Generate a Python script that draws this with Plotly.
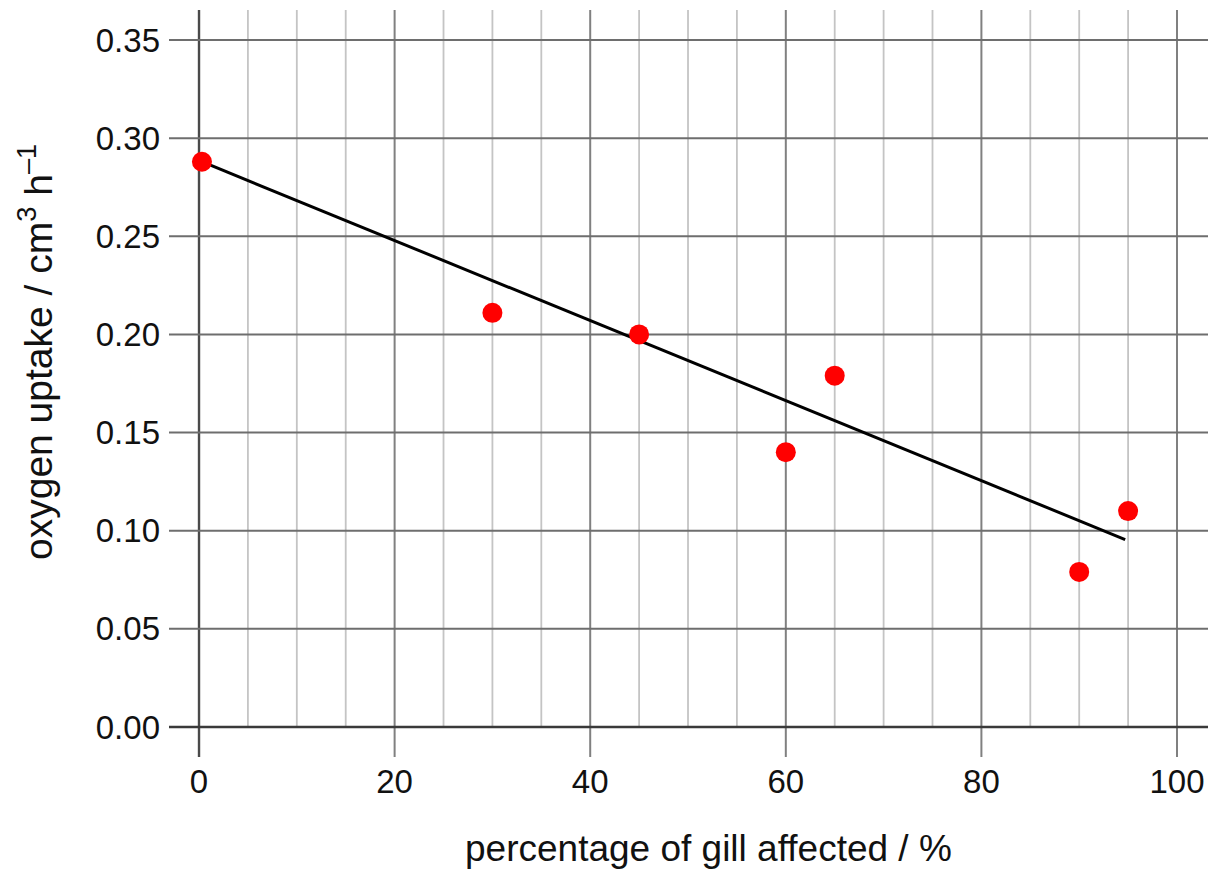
import plotly.graph_objects as go

# data
gill_pct = [0.3, 30, 45, 60, 65, 90, 95]
oxygen_uptake = [0.288, 0.211, 0.200, 0.140, 0.179, 0.079, 0.110]

trend_x = [0.3, 94.7]
trend_y = [0.288, 0.0955]

x_major = [0, 20, 40, 60, 80, 100]
x_minor = [5, 10, 15, 25, 30, 35, 45, 50, 55, 65, 70, 75, 85, 90, 95]
y_ticks = [0.00, 0.05, 0.10, 0.15, 0.20, 0.25, 0.30, 0.35]
y_tick_text = ["0.00", "0.05", "0.10", "0.15", "0.20", "0.25", "0.30", "0.35"]
x_tick_text = ["0", "20", "40", "60", "80", "100"]

X_RANGE = [-3.07, 103.17]
Y_RANGE = [-0.0153, 0.3653]

FONT = "Liberation Sans, Arial, Helvetica, sans-serif"

fig = go.Figure()

shapes = []
for xv in x_minor:
    shapes.append(dict(type="line", xref="x", yref="y", x0=xv, x1=xv, y0=0, y1=Y_RANGE[1],
                       line=dict(color="#c4c4c4", width=1.8), layer="below"))
for xv in x_major:
    col = "#4a4a4a" if xv == 0 else "#808080"
    w = 2.4 if xv == 0 else 2.0
    shapes.append(dict(type="line", xref="x", yref="y", x0=xv, x1=xv, y0=Y_RANGE[0], y1=Y_RANGE[1],
                       line=dict(color=col, width=w), layer="below"))
for yv in y_ticks:
    col = "#3a3a3a" if yv == 0 else "#6e6e6e"
    w = 2.4 if yv == 0 else 2.0
    shapes.append(dict(type="line", xref="x", yref="y", x0=X_RANGE[0], x1=X_RANGE[1], y0=yv, y1=yv,
                       line=dict(color=col, width=w), layer="below"))

fig.add_trace(go.Scatter(x=trend_x, y=trend_y, mode="lines",
                         line=dict(color="black", width=3), showlegend=False, hoverinfo="skip"))
fig.add_trace(go.Scatter(x=gill_pct, y=oxygen_uptake, mode="markers",
                         marker=dict(color="#ff0000", size=20, line=dict(width=0)),
                         showlegend=False))

fig.update_layout(
    width=1217, height=869,
    margin=dict(l=169, r=9, t=10, b=112),
    paper_bgcolor="white", plot_bgcolor="white",
    font=dict(family=FONT, size=33, color="#111111"),
    shapes=shapes,
    xaxis=dict(range=X_RANGE, showgrid=False, zeroline=False, showline=False,
               tickvals=x_major, ticktext=x_tick_text, ticks="", ticklabelstandoff=2,
               tickfont=dict(size=33, family=FONT, color="#111111")),
    yaxis=dict(range=Y_RANGE, showgrid=False, zeroline=False, showline=False,
               tickvals=y_ticks, ticktext=y_tick_text, ticks="", ticklabelstandoff=8,
               tickfont=dict(size=33, family=FONT, color="#111111")),
    annotations=[
        dict(text="percentage of gill affected / %", xref="paper", yref="paper",
             x=(708 - 169) / (1208 - 169), y=-(848 - 757) / (757 - 10), xanchor="center", yanchor="middle",
             showarrow=False, font=dict(size=37, family=FONT, color="#111111")),
        dict(text="oxygen uptake / cm<sup>3</sup> h<sup>–1</sup>", xref="paper", yref="paper",
             x=-(169 - 35) / (1208 - 169), y=(757 - 352) / (757 - 10), xanchor="center", yanchor="middle",
             textangle=-90, showarrow=False, font=dict(size=39, family=FONT, color="#111111")),
    ],
)

fig.write_html("out.html")
